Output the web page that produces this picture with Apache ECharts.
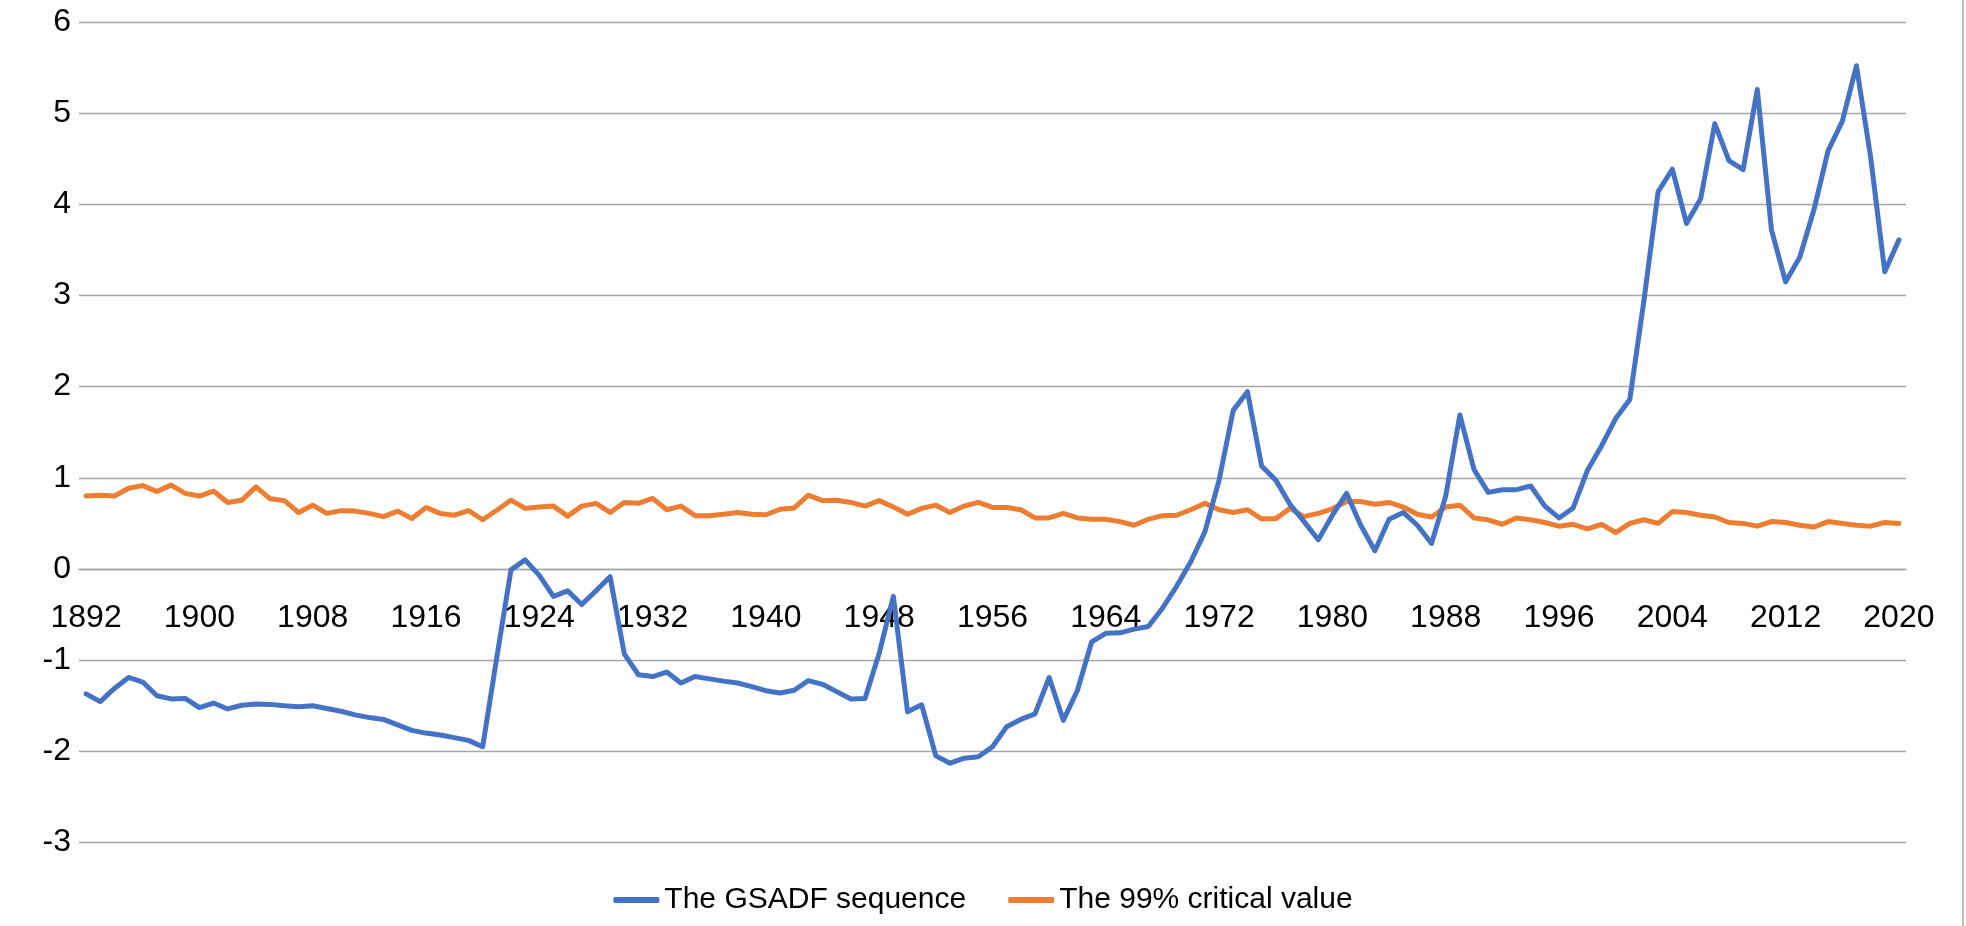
<!DOCTYPE html>
<html>
<head>
<meta charset="utf-8">
<script src="https://cdn.jsdelivr.net/npm/echarts@6/dist/echarts.min.js"></script>
<style>
html,body{margin:0;padding:0;background:#fff;}
#chart{width:1966px;height:926px;}
</style>
</head>
<body>
<div id="chart"></div>
<script>
var startYear = 1892, endYear = 2020;
var years = [];
for (var y = startYear; y <= endYear; y++) years.push(String(y));

var gsadf = [
-1.37,-1.455,-1.31,-1.19,-1.24,-1.39,-1.425,-1.42,
-1.52,-1.47,-1.535,-1.495,-1.48,-1.485,-1.50,-1.51,
-1.50,-1.53,-1.56,-1.60,-1.63,-1.65,-1.71,-1.77,
-1.80,-1.82,-1.85,-1.88,-1.95,-0.97,-0.01,0.10,
-0.07,-0.30,-0.24,-0.39,-0.24,-0.085,-0.93,-1.16,
-1.18,-1.13,-1.25,-1.18,-1.205,-1.23,-1.25,-1.29,
-1.335,-1.36,-1.33,-1.225,-1.265,-1.345,-1.425,-1.42,
-0.925,-0.30,-1.565,-1.49,-2.05,-2.13,-2.075,-2.06,
-1.95,-1.73,-1.65,-1.59,-1.19,-1.66,-1.33,-0.80,
-0.705,-0.70,-0.66,-0.63,-0.43,-0.19,0.08,0.41,
0.975,1.74,1.945,1.13,0.975,0.71,0.52,0.32,
0.59,0.83,0.48,0.20,0.545,0.62,0.48,0.28,
0.80,1.69,1.09,0.84,0.87,0.87,0.91,0.69,
0.56,0.67,1.08,1.35,1.65,1.86,2.95,4.14,
4.385,3.79,4.06,4.885,4.48,4.38,5.26,3.72,
3.15,3.42,3.94,4.59,4.91,5.52,4.52,3.26,
3.61
];

var critical99 = [
0.80,0.81,0.80,0.885,0.915,0.85,0.92,0.83,
0.80,0.855,0.73,0.755,0.90,0.77,0.75,0.62,
0.70,0.61,0.64,0.635,0.61,0.575,0.635,0.555,
0.675,0.61,0.59,0.64,0.54,0.645,0.755,0.665,
0.68,0.69,0.58,0.69,0.72,0.62,0.73,0.72,
0.775,0.65,0.69,0.585,0.585,0.60,0.62,0.60,
0.595,0.655,0.67,0.81,0.75,0.755,0.73,0.69,
0.75,0.68,0.60,0.665,0.70,0.62,0.69,0.73,
0.675,0.675,0.65,0.56,0.56,0.61,0.56,0.545,
0.545,0.52,0.48,0.545,0.585,0.59,0.65,0.72,
0.65,0.62,0.65,0.55,0.55,0.665,0.575,0.61,
0.66,0.74,0.74,0.71,0.73,0.68,0.60,0.57,
0.68,0.70,0.56,0.54,0.49,0.56,0.54,0.51,
0.47,0.49,0.44,0.49,0.40,0.50,0.54,0.50,
0.63,0.62,0.59,0.57,0.51,0.50,0.47,0.52,
0.51,0.48,0.46,0.52,0.50,0.48,0.47,0.51,
0.50
];

var seriesNames = ['The GSADF sequence', 'The 99% critical value'];
var yMin = -3, yMax = 6, yStep = 1;

var W = 1966, H = 926;
var gridTop = 22, gridBottom = 83.5;
var plotH = H - gridTop - gridBottom;
// distance from the bottom of the plot to the value 0 (x axis sits on zero)
var zeroOffset = plotH * (0 - yMin) / (yMax - yMin);

var FONT = '"Liberation Sans", Arial, sans-serif';
var chart = echarts.init(document.getElementById('chart'), null, {renderer: 'canvas'});
chart.setOption({
  animation: false,
  backgroundColor: '#ffffff',
  color: ['#4472C4', '#ED7D31'],
  grid: {left: 79, right: 60, top: gridTop, bottom: gridBottom, containLabel: false},
  legend: {
    data: seriesNames,
    bottom: 6,
    left: 'center',
    icon: 'roundRect',
    itemWidth: 46,
    itemHeight: 6,
    itemGap: 42,
    textStyle: {fontFamily: FONT, fontSize: 30, color: '#000'}
  },
  xAxis: {
    type: 'category',
    data: years,
    boundaryGap: true,
    offset: -zeroOffset,
    axisLine: {show: true, onZero: false, lineStyle: {color: '#a6a6a6', width: 1.3}},
    axisTick: {show: false},
    axisLabel: {interval: 7, margin: 33, fontFamily: FONT, fontSize: 32, color: '#000'},
    splitLine: {show: false}
  },
  yAxis: {
    type: 'value',
    min: yMin, max: yMax, interval: yStep,
    axisLine: {show: false},
    axisTick: {show: false},
    axisLabel: {margin: 8, fontFamily: FONT, fontSize: 32, color: '#000'},
    splitLine: {show: true, lineStyle: {color: '#a6a6a6', width: 1.3}}
  },
  graphic: [{
    type: 'line',
    shape: {x1: 1963, y1: 0, x2: 1963, y2: 926},
    style: {stroke: '#bfbfbf', lineWidth: 2}
  }],
  series: [
    {
      name: seriesNames[0], type: 'line', data: gsadf,
      symbol: 'none', lineStyle: {width: 5, color: '#4472C4', join: 'round', cap: 'round'},
      itemStyle: {color: '#4472C4'}, z: 3
    },
    {
      name: seriesNames[1], type: 'line', data: critical99,
      symbol: 'none', lineStyle: {width: 5, color: '#ED7D31', join: 'round', cap: 'round'},
      itemStyle: {color: '#ED7D31'}, z: 2
    }
  ]
});
</script>
</body>
</html>
